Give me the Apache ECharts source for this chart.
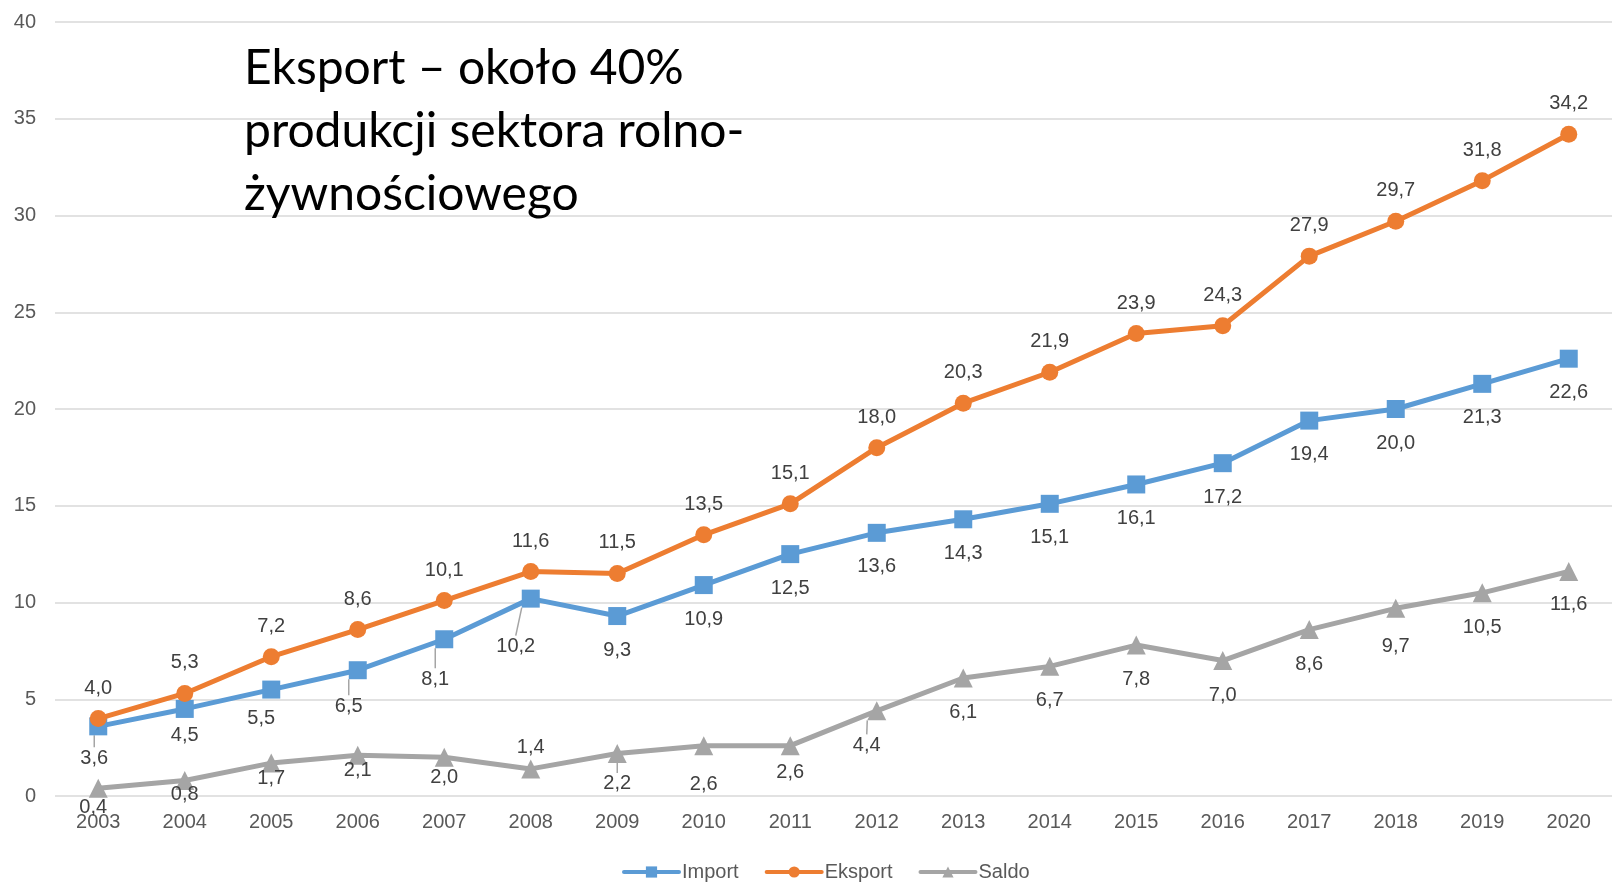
<!DOCTYPE html>
<html>
<head>
<meta charset="utf-8">
<script src="https://cdn.jsdelivr.net/npm/echarts@6/dist/echarts.min.js"></script>
<style>
  html, body { margin: 0; padding: 0; background: #fff; }
  #chart { width: 1612px; height: 882px; }
</style>
</head>
<body>
<div id="chart"></div>
<script>
// values
let years = ['2003','2004','2005','2006','2007','2008','2009','2010','2011','2012',
             '2013','2014','2015','2016','2017','2018','2019','2020'];
let importVals  = [3.6, 4.5, 5.5, 6.5, 8.1, 10.2, 9.3, 10.9, 12.5, 13.6, 14.3, 15.1, 16.1, 17.2, 19.4, 20.0, 21.3, 22.6];
let eksportVals = [4.0, 5.3, 7.2, 8.6, 10.1, 11.6, 11.5, 13.5, 15.1, 18.0, 20.3, 21.9, 23.9, 24.3, 27.9, 29.7, 31.8, 34.2];
let saldoVals   = [0.4, 0.8, 1.7, 2.1, 2.0, 1.4, 2.2, 2.6, 2.6, 4.4, 6.1, 6.7, 7.8, 7.0, 8.6, 9.7, 10.5, 11.6];

// label nudges, the way excel left them (series -> index -> [dx, dy])
let labelShift = {
    0: {0:[-4,-2], 1:[0,-7], 2:[-10,-5], 3:[-9,2], 4:[-9,6], 5:[-15,14]},
    1: {},
    2: {0:[-5,-15], 1:[0,-21], 2:[0,-19], 3:[0,-19], 4:[0,-14], 5:[0,-56], 6:[0,-4], 7:[0,4], 8:[0,-8],
        9:[-10,0], 13:[0,0], 15:[0,4], 16:[0,0], 17:[0,-2]}
};
let leaders = {0:[0,3,4,5], 1:[], 2:[6,9]};

function buildData(vals, si) {
    return vals.map(function (v, i) {
        let item = {value: v};
        if (leaders[si].indexOf(i) >= 0) item.labelLine = {show: true};
        return item;
    });
}

let fmt = function (p) { return p.value.toFixed(1).replace('.', ','); };
let labelBase = {show: true, color: '#404040', fontSize: 20, fontFamily: 'Liberation Sans', lineHeight: 22, formatter: fmt};
let leaderStyle = {lineStyle: {color: '#A5A5A5', width: 1.5}, length2: 0};

let option = {
    animation: false,
    title: {
        text: 'Eksport – około 40%\nprodukcji sektora rolno-\nżywnościowego',
        left: 239,
        top: 32,
        textStyle: {fontSize: 48, fontWeight: 'normal', color: '#000', fontFamily: 'Lato', lineHeight: 63}
    },
    legend: {
        data: ['Import', 'Eksport', 'Saldo'],
        left: 617,
        top: 857,
        itemWidth: 55,
        itemHeight: 14,
        itemGap: 26,
        lineStyle: {width: 4, cap: 'round'},
        textStyle: {fontSize: 20, color: '#595959', fontFamily: 'Liberation Sans', padding: [0, 0, 0, -2]}
    },
    grid: {left: 55, right: -10, top: 22, bottom: 86},
    xAxis: {
        type: 'category',
        data: years,
        axisLine: {show: false},
        axisTick: {show: false},
        axisLabel: {color: '#595959', fontSize: 20, fontFamily: 'Liberation Sans', margin: 16}
    },
    yAxis: {
        type: 'value',
        min: 0,
        max: 40,
        interval: 5,
        axisLine: {show: false},
        axisTick: {show: false},
        splitLine: {lineStyle: {color: '#D9D9D9', width: 1.5}},
        axisLabel: {color: '#595959', fontSize: 20, fontFamily: 'Liberation Sans', margin: 19}
    },
    series: [{
        name: 'Import',
        type: 'line',
        data: buildData(importVals, 0),
        symbol: 'rect',
        symbolSize: 18,
        color: '#5B9BD5',
        lineStyle: {width: 5},
        label: Object.assign({position: 'bottom', distance: 14}, labelBase),
        labelLine: leaderStyle,
        z: 3
    }, {
        name: 'Eksport',
        type: 'line',
        data: buildData(eksportVals, 1),
        symbol: 'circle',
        symbolSize: 17,
        color: '#ED7D31',
        lineStyle: {width: 5},
        label: Object.assign({position: 'top', distance: 11}, labelBase),
        labelLine: leaderStyle,
        z: 4
    }, {
        name: 'Saldo',
        type: 'line',
        data: buildData(saldoVals, 2),
        symbol: 'triangle',
        symbolSize: 19,
        color: '#A5A5A5',
        lineStyle: {width: 5},
        label: Object.assign({position: 'bottom', distance: 14}, labelBase),
        labelLine: leaderStyle,
        z: 2
    }],
    labelLayout: function (params) {
        let s = labelShift[params.seriesIndex][params.dataIndex];
        if (!s) return {};
        return {dx: s[0], dy: s[1]};
    }
};

let myChart = echarts.init(document.getElementById('chart'));
myChart.setOption(option);
</script>
</body>
</html>
